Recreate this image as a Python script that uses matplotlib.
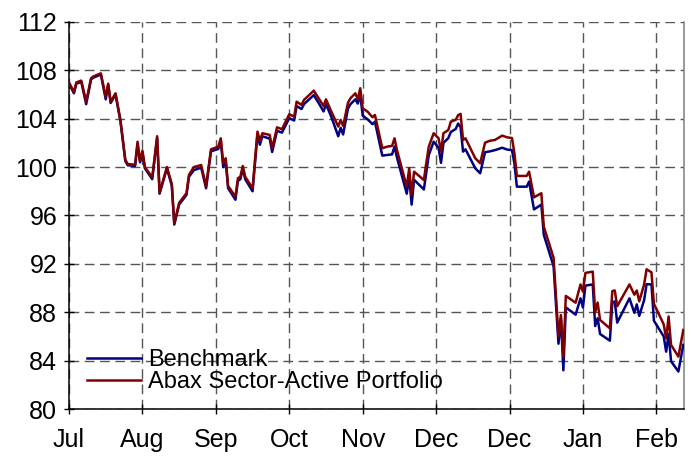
# ============================================================
# benchmark vs Abax Sector-Active Portfolio
# ============================================================

import matplotlib
matplotlib.use("Agg")
import matplotlib.pyplot as plt


# ============================================================
# DATA (trading-day index, indexed value)
# ============================================================

days = [
    0, 2, 3, 5, 7, 9, 10, 13, 15, 16, 17, 19, 21, 23, 24, 27, 28, 29, 30, 31,
    34, 36, 37, 40, 42, 43, 45, 48, 49, 51, 54, 56, 58, 61, 62, 63, 64, 65,
    68, 69, 70, 71, 72, 75, 77, 78, 79, 82, 83, 85, 87, 90, 92, 93, 95, 96,
    100, 102, 104, 105, 107, 110, 111, 112, 114, 115, 117, 118, 119, 120,
    122, 124, 125, 128, 130, 132, 133, 134, 138, 139, 140, 141, 145, 146,
    147, 149, 151, 152, 153, 155, 156, 158, 159, 160, 161, 162, 166, 168,
    170, 172, 174, 177, 179, 181, 182, 183, 187, 188, 190, 193, 194, 198,
    200, 201, 202, 203, 207, 209, 210, 211, 214, 215, 216, 217, 221, 222,
    223, 224, 229, 231, 232, 233, 235, 236, 238, 239, 243, 244, 245, 246,
    249, 251,
]

portfolio = [
    107.0, 106.2, 107.0, 107.15, 105.4, 107.35, 107.5, 107.75, 105.8, 106.9,
    105.4, 106.1, 103.9, 100.6, 100.25, 100.2, 102.1, 100.5, 101.35, 100.0,
    99.15, 102.55, 97.9, 100.0, 98.6, 95.35, 97.05, 97.85, 99.35, 100.0,
    100.17, 98.44, 101.47, 101.69, 102.38, 100.31, 100.73, 98.44, 97.56,
    99.08, 99.2, 100.09, 99.2, 98.25, 102.93, 102.18, 102.8, 102.66, 101.56,
    103.29, 103.13, 104.37, 104.17, 105.41, 105.14, 105.55, 106.32, 105.69,
    105.05, 105.6, 104.67, 103.35, 103.9, 103.4, 105.33, 105.69, 106.1,
    105.6, 106.52, 104.86, 104.58, 104.12, 104.31, 101.56, 101.69, 101.75,
    102.38, 101.41, 98.38, 99.9, 97.7, 99.62, 98.93, 100.37, 101.69, 102.8,
    102.38, 101.28, 102.8, 103.07, 103.76, 103.9, 104.3, 104.4, 102.24,
    102.38, 100.73, 100.32, 102.02, 102.18, 102.24, 102.6, 102.46, 102.4,
    101.14, 99.27, 99.27, 99.62, 97.5, 97.84, 95.08, 92.5, 86.0, 87.77,
    84.3, 89.35, 88.79, 90.3, 89.7, 91.25, 91.36, 88.0, 88.8, 87.36, 86.67,
    89.75, 89.8, 88.5, 90.3, 89.45, 89.8, 88.9, 90.3, 91.55, 91.3, 88.7,
    87.0, 85.84, 87.65, 85.3, 84.33, 86.53,
]

benchmark = [
    106.9, 106.1, 106.9, 107.05, 105.2, 107.25, 107.4, 107.65, 105.6, 106.8,
    105.3, 106.0, 103.8, 100.5, 100.15, 100.1, 101.9, 100.4, 101.2, 99.9,
    99.0, 102.4, 97.8, 99.9, 98.45, 95.25, 96.9, 97.7, 99.2, 99.75,
    99.95, 98.25, 101.3, 101.5, 102.2, 100.0, 100.55, 98.25, 97.3,
    98.85, 99.0, 99.85, 99.0, 98.0, 102.7, 101.85, 102.55, 102.35, 101.25,
    103.0, 102.85, 104.05, 103.85, 105.05, 104.8, 105.2, 105.95, 105.3,
    104.6, 105.2, 104.25, 102.55, 103.25, 102.7, 104.85, 105.2, 105.6,
    105.25, 106.0, 104.25, 103.95, 103.55, 103.75, 100.95, 101.0, 101.05,
    101.7, 100.8, 97.8, 99.2, 96.9, 98.95, 98.15, 99.6, 101.0, 102.1,
    101.6, 100.35, 102.0, 102.4, 102.9, 103.15, 103.6, 103.3, 101.28,
    101.47, 99.9, 99.49, 101.23, 101.3, 101.4, 101.6, 101.45, 101.4,
    100.3, 98.38, 98.38, 98.8, 96.5, 96.9, 94.4, 91.8, 85.4, 87.5,
    83.2, 88.4, 87.8, 89.15, 88.4, 90.2, 90.3, 86.86, 87.5, 86.2, 85.65,
    88.8, 88.9, 87.14, 89.15, 87.95, 88.65, 87.7, 89.0, 90.32, 90.3, 87.3,
    86.0, 84.74, 86.2, 83.95, 83.1, 85.3,
]

tick_days = [0, 30, 60, 90, 120, 150, 180, 210, 240]
tick_labels = ["Jul", "Aug", "Sep", "Oct", "Nov", "Dec", "Dec", "Jan", "Feb"]
y_ticks = [80, 84, 88, 92, 96, 100, 104, 108, 112]


# ============================================================
# PLOT
# ============================================================

plt.rcParams["font.family"] = ["Liberation Sans", "DejaVu Sans"]

fig = plt.figure(figsize=(6.91, 4.57), dpi=100)
ax = fig.add_axes([0.0999, 0.105, 0.89, 0.847])

ax.plot(days, benchmark, color="#000080", linewidth=1.8,
        label="Benchmark", zorder=3)
ax.plot(days, portfolio, color="#800000", linewidth=1.8,
        label="Abax Sector-Active Portfolio", zorder=4)

ax.set_xlim(0, 251.3)
ax.set_ylim(80, 112)

ax.set_xticks(tick_days)
ax.set_xticklabels(tick_labels)
ax.set_yticks(y_ticks)

ax.tick_params(axis="both", labelsize=18, direction="inout",
               length=7, width=1, colors="black", pad=5)
ax.tick_params(axis="x", pad=10)

# grid
ax.grid(True, color="#555555", linestyle=(0, (7, 4)), linewidth=1.0)

for s in ["left", "bottom"]:
    ax.spines[s].set_color("black")
    ax.spines[s].set_linewidth(1.1)
ax.spines["top"].set_visible(False)
ax.spines["right"].set_color("#808080")
ax.spines["right"].set_linewidth(1.1)

ax.legend(loc="upper left", bbox_to_anchor=(0.029, 0.155),
          frameon=False, fontsize=17, handlelength=2.3,
          handletextpad=0.3, labelspacing=0.0,
          borderpad=0, borderaxespad=0)

fig.savefig("out.png", dpi=100)
